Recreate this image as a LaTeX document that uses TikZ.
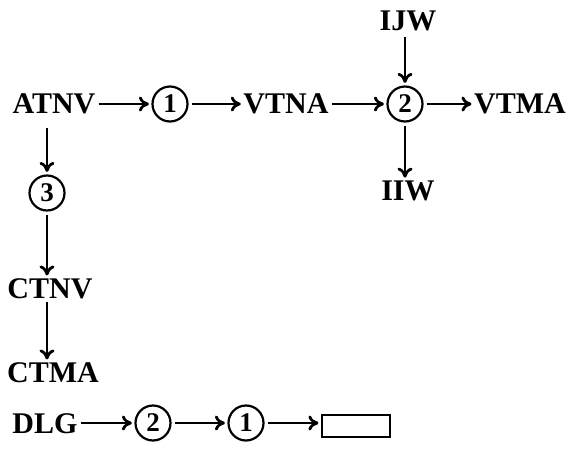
\documentclass[tikz,border=0pt]{standalone}
\usepackage{fontspec}
\setmainfont{Liberation Serif}
\usetikzlibrary{arrows.meta}
\begin{document}
\begin{tikzpicture}[x=1pt,y=-1pt,
  lbl/.style={font=\fontsize{30}{32}\selectfont\bfseries, inner sep=0pt, anchor=base},
  num/.style={circle, draw, line width=2.2pt, minimum size=35pt, inner sep=0pt,
    font=\fontsize{27}{29}\selectfont\bfseries},
  arr/.style={line width=2.2pt, -{To[length=10pt,width=15pt,line width=2.8pt]},
    shorten <=3pt, shorten >=2.5pt},
  blank/.style={draw, line width=2.2pt, minimum width=68pt, minimum height=22pt, inner sep=0pt}]
\useasboundingbox (0,0) rectangle (568,453);
% top row
\node[lbl] (atnv) at (54,113) {ATNV};
\node[num] (c1) at (170,104) {1};
\node[lbl] (vtna) at (286,113) {VTNA};
\node[num] (c2) at (405,104) {2};
\node[lbl] (vtma) at (520,113) {VTMA};
\node[lbl] (ijw) at (408,30) {IJW};
\node[lbl] (iiw) at (408,200) {IIW};
% left column
\node[num] (c3) at (47,193) {3};
\node[lbl] (ctnv) at (50,298) {CTNV};
\node[lbl] (ctma) at (53,382) {CTMA};
% bottom row
\node[lbl] (dlg) at (45,433) {DLG};
\node[num] (b2) at (153,423) {2};
\node[num] (b1) at (246,423) {1};
\node[blank] (box) at (356,426) {};
% connectors
\draw[arr] (atnv.east |- c1) -- (c1);
\draw[arr] (c1) -- (vtna.west |- c1);
\draw[arr] (vtna.east |- c2) -- (c2);
\draw[arr] (c2) -- (vtma.west |- c2);
\draw[arr, shorten <=6pt] (ijw.south -| c2) -- (c2);
\draw[arr] (c2) -- (c2 |- iiw.north);
\draw[arr, shorten <=14pt] (c3 |- atnv.south) -- (c3);
\draw[arr] (c3) -- (c3 |- ctnv.north);
\draw[arr] (c3 |- ctnv.south) -- (c3 |- ctma.north);
\draw[arr] (dlg.east |- b2) -- (b2);
\draw[arr] (b2) -- (b1);
\draw[arr] (b1) -- (box.west |- b1);
\end{tikzpicture}
\end{document}
